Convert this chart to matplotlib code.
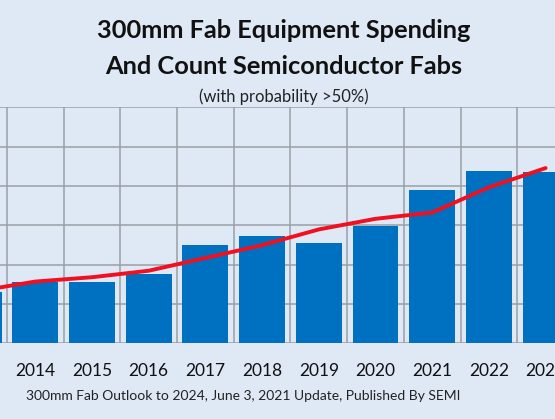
import matplotlib
matplotlib.use("Agg")
import matplotlib.pyplot as plt
from matplotlib.ticker import MultipleLocator, FixedLocator

years = ["2013", "2014", "2015", "2016", "2017", "2018", "2019", "2020", "2021", "2022", "2023"]
spending = [26.3, 31.3, 31.2, 35.1, 50.0, 54.5, 51.2, 59.5, 77.7, 87.7, 87.0]
fab_count = [86.6, 91.4, 93.6, 96.9, 103.4, 109.9, 117.9, 123.3, 126.5, 139.3, 149.1]

bg = "#DFE9F5"
plt.rcParams['font.family'] = ['Lato', 'DejaVu Sans']

fig = plt.figure(figsize=(5.55, 4.19), dpi=100, facecolor=bg)
W, H = 555, 419
bottom_px, top_px = 343.3, 107.3
ax = fig.add_axes([0, 1 - bottom_px / H, 1, (bottom_px - top_px) / H])
ax.set_facecolor(bg)

x = list(range(len(years)))
ax.bar(x, spending, width=0.81, color="#0070C0", zorder=2)
ax.set_xlim(0.377, 10.166)
ax.set_ylim(0, 120)
ax.yaxis.set_major_locator(MultipleLocator(20))
ax.xaxis.set_major_locator(FixedLocator(x))
ax.set_xticklabels(years)
ax.xaxis.set_minor_locator(FixedLocator([i - 0.5 for i in x] + [x[-1] + 0.5]))
ax.grid(axis="y", which="major", color="#9A9FA6", linewidth=1.1, zorder=0)
ax.grid(axis="x", which="minor", color="#9A9FA6", linewidth=1.1, zorder=0)
ax.set_axisbelow(True)
for s in ax.spines.values():
    s.set_visible(False)
ax.tick_params(axis="x", which="both", length=0, labelsize=12.5, pad=14, labelcolor="#111111")
ax.tick_params(axis="y", which="both", length=0, labelleft=False)

ax2 = ax.twinx()
ax2.set_ylim(60, 180)
ax2.plot(x, fab_count, color="#F01020", linewidth=2.8, zorder=3, solid_capstyle="round")
ax2.patch.set_visible(False)
for s in ax2.spines.values():
    s.set_visible(False)
ax2.tick_params(axis="y", length=0, labelright=False)

fig.text(284 / W, 1 - 30 / H, "300mm Fab Equipment Spending", ha="center", va="center",
         fontsize=18.3, fontweight="bold", color="#111111")
fig.text(284 / W, 1 - 66.7 / H, "And Count Semiconductor Fabs", ha="center", va="center",
         fontsize=18.3, fontweight="bold", color="#111111")
fig.text(284 / W, 1 - 96.7 / H, "(with probability >50%)", ha="center", va="center",
         fontsize=12, color="#222222")
fig.text(25.7 / W, 1 - 395.7 / H, "300mm Fab Outlook to 2024, June 3, 2021 Update, Published By SEMI",
         ha="left", va="center", fontsize=10, color="#222222")

fig.savefig("out.png", dpi=100, facecolor=bg)
